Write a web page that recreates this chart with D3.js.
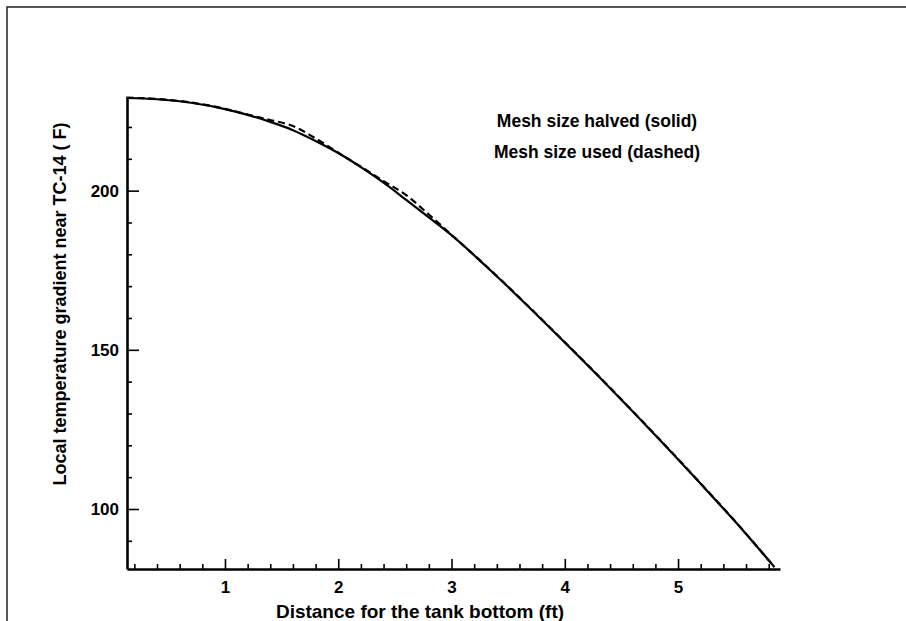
<!DOCTYPE html>
<html>
<head>
<meta charset="utf-8">
<script src="https://cdn.jsdelivr.net/npm/d3@7"></script>
<style>
  body { margin: 0; background: #fff; }
  svg { display: block; }
  text { font-family: "Liberation Sans", Arial, Helvetica, sans-serif; font-weight: bold; fill: #000; }
</style>
</head>
<body>
<div id="chart"></div>
<script>
// distance from tank bottom (ft)
const distance = [0.13, 0.4, 0.7, 1.0, 1.2, 1.4, 1.6, 1.8, 2.0, 2.2, 2.4, 2.6, 2.8, 3.0, 3.3, 3.6, 4.0, 4.3, 4.6, 4.9, 5.2, 5.5, 5.85]
// mesh size halved (solid)
const halvedMesh = [229.1, 228.7, 227.6, 225.6, 223.8, 221.6, 219.0, 215.6, 211.8, 207.4, 202.5, 197.1, 191.6, 186.0, 176.4, 166.3, 152.3, 141.6, 130.6, 119.4, 107.9, 96.2, 81.8]
// mesh size used (dashed)
const usedMesh = [229.2, 228.8, 227.7, 225.7, 223.9, 222.2, 220.3, 216.4, 211.9, 207.5, 203.0, 198.6, 192.5, 186.1, 176.5, 166.4, 152.4, 141.7, 130.7, 119.5, 108.0, 96.3, 81.8]

const xMajor = [1, 2, 3, 4, 5]
const xMinor = [0.2, 0.4, 0.6, 0.8, 1.2, 1.4, 1.6, 1.8, 2.2, 2.4, 2.6, 2.8, 3.2, 3.4, 3.6, 3.8, 4.2, 4.4, 4.6, 4.8, 5.2, 5.4, 5.6, 5.8]
const yMajor = [100, 150, 200]
const yMinor = [90, 110, 120, 130, 140, 160, 170, 180, 190, 210, 220]

const legendLines = ['Mesh size halved (solid)', 'Mesh size used (dashed)']

const width = 906, height = 621
const svg = d3.select('#chart').append('svg')
    .attr('width', width)
    .attr('height', height)

// scan frame (top + left edge)
svg.append('path')
    .attr('d', 'M7,' + height + 'V7H' + width)
    .attr('fill', 'none')
    .attr('stroke', '#222')
    .attr('stroke-width', 1.5)

const x = d3.scaleLinear().domain([0.135, 5.9]).range([127, 780])
const y = d3.scaleLinear().domain([81.15, 229.1]).range([569, 98])

// minor ticks
svg.append('g')
    .attr('transform', 'translate(0,569)')
    .call(d3.axisBottom(x).tickValues(xMinor).tickSize(-5).tickSizeOuter(0).tickFormat(''))
    .call(g => g.select('.domain').remove())
svg.append('g')
    .attr('transform', 'translate(127,0)')
    .call(d3.axisLeft(y).tickValues(yMinor).tickSize(-5).tickSizeOuter(0).tickFormat(''))
    .call(g => g.select('.domain').remove())

// major ticks + axis lines
svg.append('g')
    .attr('transform', 'translate(0,569)')
    .call(d3.axisBottom(x).tickValues(xMajor).tickSize(-10).tickSizeOuter(0).tickPadding(12).tickFormat(d3.format('d')))
svg.append('g')
    .attr('transform', 'translate(127,0)')
    .call(d3.axisLeft(y).tickValues(yMajor).tickSize(-12).tickSizeOuter(0).tickPadding(8).tickFormat(d3.format('d')))

svg.selectAll('.tick line').attr('stroke', '#000').attr('stroke-width', 1.6)
svg.selectAll('.domain').attr('stroke', '#000').attr('stroke-width', 2.6)
svg.selectAll('.tick text')
    .attr('font-size', 17)
    .style('font-family', '"Liberation Sans", Arial, sans-serif')
    .style('font-weight', 'bold')

// axis titles
svg.append('text')
    .attr('x', 420)
    .attr('y', 618)
    .attr('text-anchor', 'middle')
    .attr('font-size', 19)
    .text('Distance for the tank bottom (ft)')

svg.append('text')
    .attr('transform', 'translate(66,304) rotate(-90)')
    .attr('text-anchor', 'middle')
    .attr('font-size', 18)
    .text('Local temperature gradient near TC-14 ( F)')

// legend text
svg.selectAll('.legend')
    .data(legendLines)
    .enter()
    .append('text')
    .attr('class', 'legend')
    .attr('x', 597)
    .attr('y', (d, i) => 127 + i * 31)
    .attr('text-anchor', 'middle')
    .attr('font-size', 17.5)
    .text(d => d)

// curves
const line = d3.line()
    .x(d => x(d[0]))
    .y(d => y(d[1]))
    .curve(d3.curveMonotoneX)

svg.append('path')
    .datum(distance.map((d, i) => [d, halvedMesh[i]]))
    .attr('fill', 'none')
    .attr('stroke', '#000')
    .attr('stroke-width', 2.2)
    .attr('d', line)

svg.append('path')
    .datum(distance.map((d, i) => [d, usedMesh[i]]))
    .attr('fill', 'none')
    .attr('stroke', '#000')
    .attr('stroke-width', 2.2)
    .attr('stroke-dasharray', '7,4')
    .attr('d', line)
</script>
</body>
</html>
